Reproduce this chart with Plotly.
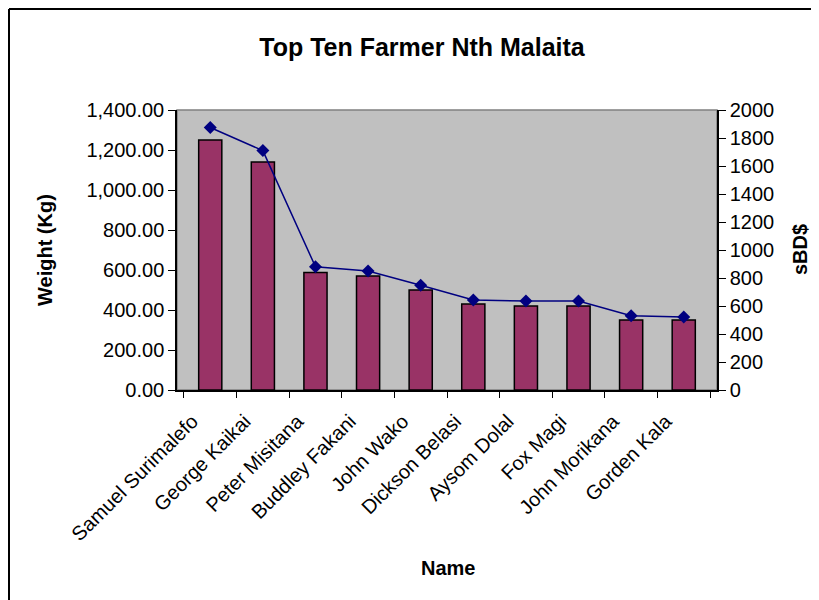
import plotly.graph_objects as go

names = ["Samuel Surimalefo", "George Kaikai", "Peter Misitana", "Buddley Fakani",
         "John Wako", "Dickson Belasi", "Aysom Dolal", "Fox Magi", "John Morikana", "Gorden Kala"]
weight_kg = [1250, 1140, 587, 570, 500, 430, 420, 420, 350, 350]
value_sbd = [1875, 1710, 880, 850, 748, 643, 635, 635, 530, 522]

left_ticks = [0, 200, 400, 600, 800, 1000, 1200, 1400]
right_ticks = list(range(0, 2001, 200))

FONT = "Liberation Sans, Arial, sans-serif"

# the page body has an 8px margin
OFF = 8
W, H = 819 - OFF, 600 - OFF
PL, PR, PT, PB = 177, 717, 110, 390  # plot area in page pixels
L, R, T, B = PL - OFF, OFF + W - PR, PT - OFF, OFF + H - PB
PW, PH = W - L - R, H - T - B


def px_x(x):
    return (x - PL) / PW


def px_y(y):
    return (PB - y) / PH


fig = go.Figure()
fig.add_trace(go.Bar(
    x=names, y=weight_kg, name="Weight (Kg)",
    marker=dict(color="#993366", line=dict(color="#000000", width=1.5)),
    width=0.44, yaxis="y"))
fig.add_trace(go.Scatter(
    x=names, y=value_sbd, name="sBD$", mode="lines+markers",
    line=dict(color="#000080", width=1.5),
    marker=dict(symbol="diamond", size=10, color="#000080"),
    yaxis="y2"))

fig.update_layout(
    width=W, height=H,
    margin=dict(l=L, r=R, t=T, b=B, pad=0),
    paper_bgcolor="white", plot_bgcolor="#C0C0C0",
    showlegend=False,
    font=dict(family=FONT, size=20, color="black"),
    title=dict(text="<b>Top Ten Farmer Nth Malaita</b>", x=(422 - OFF) / W, xref="container",
               xanchor="center", y=1 - (47 - OFF) / H, yref="container", yanchor="middle",
               font=dict(family=FONT, size=25, color="black")),
    xaxis=dict(showline=True, linecolor="black", linewidth=1.5, ticks="outside",
               ticklen=6, tickcolor="black", tickson="boundaries", tickangle=-45,
               tickfont=dict(size=20), showgrid=False,
               ticklabelshift=-18, ticklabelstandoff=10),
    yaxis=dict(range=[0, 1400], tickvals=left_ticks, tickformat=",.2f",
               showline=True, linecolor="black", linewidth=1.5, ticks="outside",
               ticklen=7, tickcolor="black", showgrid=False, zeroline=False,
               tickfont=dict(size=20)),
    yaxis2=dict(range=[0, 2000], tickvals=right_ticks, tickformat="d", overlaying="y",
                side="right", showline=True, linecolor="black", linewidth=1.5,
                ticks="outside", ticklen=7, tickcolor="black", showgrid=False,
                zeroline=False, tickfont=dict(size=20)),
    shapes=[
        dict(type="rect", xref="paper", yref="paper", x0=0, x1=1, y0=0, y1=1,
             line=dict(color="#808080", width=1.5), layer="below"),
        dict(type="line", xref="paper", yref="paper",
             x0=px_x(9), x1=px_x(830), y0=px_y(9), y1=px_y(9),
             line=dict(color="black", width=2)),
        dict(type="line", xref="paper", yref="paper",
             x0=px_x(9), x1=px_x(9), y0=px_y(9), y1=px_y(610),
             line=dict(color="black", width=2)),
    ],
    annotations=[
        dict(text="<b>Weight (Kg)</b>", xref="paper", yref="paper",
             x=px_x(45), y=px_y(250), textangle=-90, showarrow=False,
             xanchor="center", yanchor="middle", font=dict(size=20)),
        dict(text="<b>sBD$</b>", xref="paper", yref="paper",
             x=px_x(800), y=px_y(250), textangle=-90, showarrow=False,
             xanchor="center", yanchor="middle", font=dict(size=20)),
        dict(text="<b>Name</b>", xref="paper", yref="paper",
             x=px_x(448), y=px_y(568), showarrow=False,
             xanchor="center", yanchor="middle", font=dict(size=20)),
    ],
)

fig.write_html("out.html")
